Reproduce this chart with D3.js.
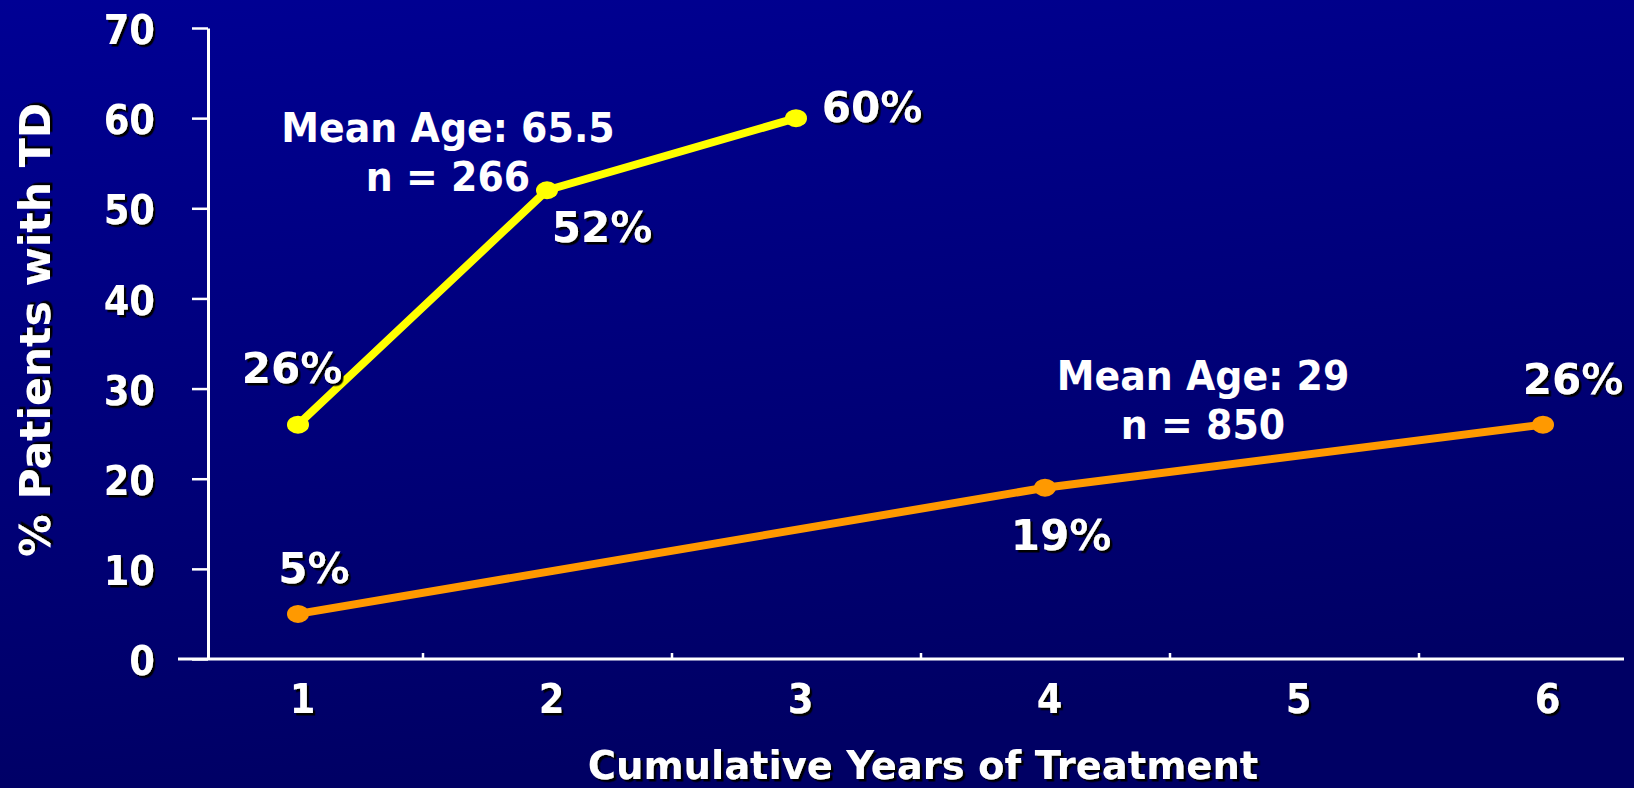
<!DOCTYPE html>
<html>
<head>
<meta charset="utf-8">
<script src="https://cdn.jsdelivr.net/npm/d3@7"></script>
<style>
  html, body { margin: 0; padding: 0; background: #00007a; }
  svg { display: block; }
  text { font-family: "DejaVu Sans", Verdana, sans-serif; font-weight: bold; fill: #fff; }
</style>
</head>
<body>
<svg id="chart" width="1634" height="788"></svg>
<script>
// Cumulative incidence of tardive dyskinesia by years of treatment
const years = [1, 2, 3, 4, 5, 6];
const yTicks = [0, 10, 20, 30, 40, 50, 60, 70];

// Older cohort (mean age 65.5, n = 266)
const olderYears = [1, 2, 3];
const olderRates = [26, 52, 60];
const olderLabels = ["26%", "52%", "60%"];

// Younger cohort (mean age 29, n = 850)
const youngerYears = [1, 4, 6];
const youngerRates = [5, 19, 26];
const youngerLabels = ["5%", "19%", "26%"];

const svg = d3.select("#chart");
const W = 1634, H = 788;

// background gradient
const defs = svg.append("defs");
const grad = defs.append("linearGradient")
  .attr("id", "bg").attr("x1", 0).attr("y1", 0).attr("x2", 0.25).attr("y2", 1);
grad.append("stop").attr("offset", "0%").attr("stop-color", "#000094");
grad.append("stop").attr("offset", "100%").attr("stop-color", "#000064");
svg.append("rect").attr("width", W).attr("height", H).attr("fill", "url(#bg)");

// hard black drop shadow for text
const f = defs.append("filter").attr("id", "shadow")
  .attr("x", "-10%").attr("y", "-20%").attr("width", "130%").attr("height", "150%");
f.append("feDropShadow").attr("dx", 2.5).attr("dy", 2.5)
  .attr("stdDeviation", 0).attr("flood-color", "#000").attr("flood-opacity", 1);

const x = d3.scaleLinear().domain([1, 6]).range([298, 1543]);
const y = d3.scaleLinear().domain([0, 70]).range([659, 28]);

// y axis
const tickLen = 16, tickPad = 37, sx = 0.9;
const yAxis = svg.append("g")
  .attr("transform", `translate(208,0)`)
  .call(d3.axisLeft(y).tickValues(yTicks).tickSize(tickLen).tickSizeOuter(0).tickPadding(tickPad));
yAxis.select(".domain").attr("stroke", "#fff").attr("stroke-width", 3);
yAxis.selectAll(".tick line").attr("stroke", "#fff").attr("stroke-width", 2.5);
yAxis.selectAll(".tick text")
  .attr("font-size", 41).attr("fill", "#fff").attr("dy", "0.38em")
  .attr("font-family", "DejaVu Sans").attr("font-weight", "bold")
  .attr("x", -(tickLen + tickPad) / sx)
  .attr("transform", `scale(${sx},1)`)
  .attr("filter", "url(#shadow)");

// x axis: boundary ticks between categories
const xAxis = svg.append("g")
  .attr("transform", `translate(0,${y(0)})`)
  .call(d3.axisBottom(x).tickValues(years.slice(0, -1).map(d => d + 0.5))
    .tickSize(-6).tickSizeOuter(0).tickFormat(""));
xAxis.select(".domain")
  .attr("d", "M178,0H1624")
  .attr("stroke", "#fff").attr("stroke-width", 3);
xAxis.selectAll(".tick line").attr("stroke", "#fff").attr("stroke-width", 2.5);

// category labels
const xLabels = svg.append("g")
  .attr("transform", `translate(4,${y(0)})`)
  .call(d3.axisBottom(x).tickValues(years).tickSize(0).tickPadding(25).tickFormat(d3.format("d")));
xLabels.select(".domain").remove();
xLabels.selectAll(".tick text")
  .attr("font-size", 41).attr("fill", "#fff")
  .attr("font-family", "DejaVu Sans").attr("font-weight", "bold")
  .attr("transform", `scale(${sx},1)`)
  .attr("filter", "url(#shadow)");

// axis titles
svg.append("text")
  .attr("x", 923).attr("y", 779)
  .attr("text-anchor", "middle").attr("font-size", 38.5)
  .attr("filter", "url(#shadow)")
  .text("Cumulative Years of Treatment");

svg.append("text")
  .attr("transform", "translate(50,330) rotate(-90)")
  .attr("text-anchor", "middle").attr("font-size", 42.5)
  .attr("filter", "url(#shadow)")
  .text("% Patients with TD");

// series
const line = d3.line().x(d => x(d[0])).y(d => y(d[1]));

function drawSeries(xs, vs, color) {
  const pts = xs.map((d, i) => [d, vs[i]]);
  svg.append("path").datum(pts)
    .attr("d", line).attr("fill", "none")
    .attr("stroke", color).attr("stroke-width", 8)
    .attr("stroke-linejoin", "round");
  svg.append("g").selectAll("ellipse").data(pts).join("ellipse")
    .attr("cx", d => x(d[0])).attr("cy", d => y(d[1]))
    .attr("rx", 11).attr("ry", 9).attr("fill", color);
}
drawSeries(olderYears, olderRates, "#ffff00");
drawSeries(youngerYears, youngerRates, "#ff9900");

// value labels, offset from each point
function drawLabels(xs, vs, labels, offsets) {
  svg.append("g").selectAll("text").data(xs).join("text")
    .attr("x", (d, i) => x(d) + offsets[i][0])
    .attr("y", (d, i) => y(vs[i]) + offsets[i][1])
    .attr("text-anchor", "middle").attr("font-size", 42)
    .attr("filter", "url(#shadow)")
    .text((d, i) => labels[i]);
}
drawLabels(olderYears, olderRates, olderLabels, [[-6, -42], [55, 52], [76, 4]]);
drawLabels(youngerYears, youngerRates, youngerLabels, [[16, -31], [16, 62], [30, -31]]);

// cohort annotations (slightly condensed)
function annotate(cx, base, lines) {
  const g = svg.append("g").attr("transform", `translate(${cx},${base}) scale(0.925,1)`);
  g.selectAll("text").data(lines).join("text")
    .attr("x", 0).attr("y", (d, i) => i * 49)
    .attr("text-anchor", "middle").attr("font-size", 41)
    .text(d => d);
}
annotate(448, 142, ["Mean Age: 65.5", "n = 266"]);
annotate(1203, 390, ["Mean Age: 29", "n = 850"]);
</script>
</body>
</html>
